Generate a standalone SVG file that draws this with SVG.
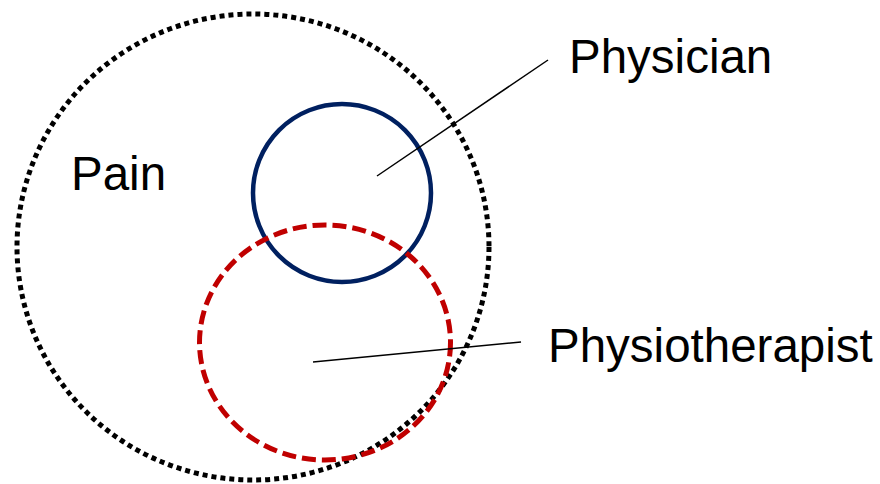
<svg xmlns="http://www.w3.org/2000/svg" width="880" height="484" viewBox="0 0 880 484">
<style>
.lbl{font-family:"Liberation Sans",Arial,sans-serif;font-size:47.5px;fill:#000}
.lead{stroke:#000;stroke-width:1.5;fill:none}
</style>
<rect width="880" height="484" fill="#fff"/>
<g id="pain">
<ellipse cx="253" cy="247" rx="236" ry="233" fill="none" stroke="#000" stroke-width="5" stroke-dasharray="5 4"/>
<text class="lbl" x="71" y="190">Pain</text>
</g>
<g id="physician">
<circle cx="342" cy="193" r="89" fill="none" stroke="#002060" stroke-width="4.5"/>
<text class="lbl" x="569" y="73">Physician</text>
</g>
<g id="physiotherapist">
<ellipse cx="325" cy="342.5" rx="125.5" ry="117.5" fill="none" stroke="#C00000" stroke-width="5" stroke-dasharray="14 6"/>
<text class="lbl" x="548" y="362">Physiotherapist</text>
</g>
<g id="connectors">
<line class="lead" x1="377" y1="176" x2="548" y2="60"/>
<line class="lead" x1="313" y1="362" x2="521" y2="342"/>
</g>
</svg>
